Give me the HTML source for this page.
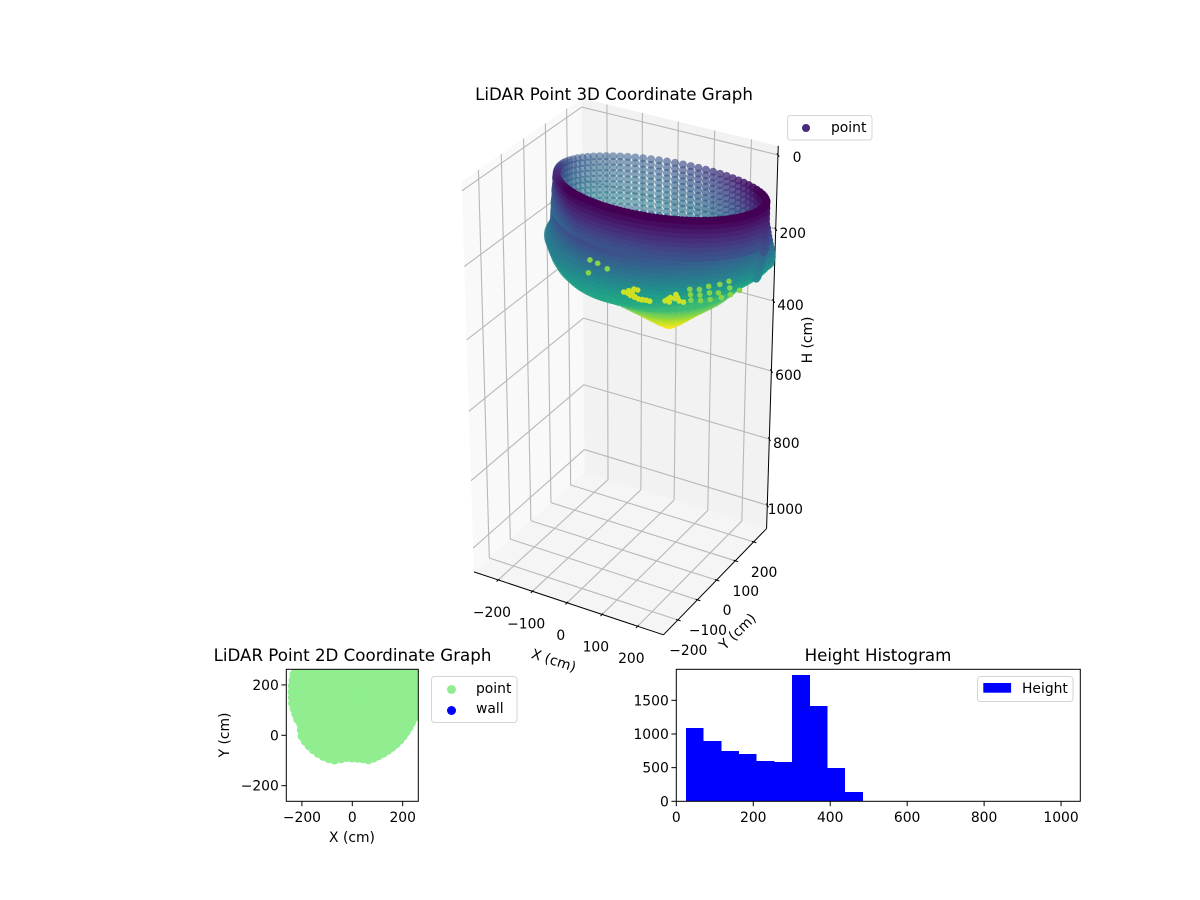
<!DOCTYPE html>
<html>
<head>
<meta charset="utf-8">
<title>LiDAR Point Graphs</title>
<style>
html,body{margin:0;padding:0;background:#fff;}
svg{display:block;}
text{font-family:"DejaVu Sans","Liberation Sans",sans-serif;font-size:13.89px;fill:#000;}
.title{font-size:16.67px;text-anchor:middle;}
.mid{text-anchor:middle;}
.end{text-anchor:end;}
</style>
</head>
<body>
<svg id="fig" xmlns="http://www.w3.org/2000/svg" width="1200" height="900" viewBox="0 0 1200 900">
  <rect width="1200" height="900" fill="#fff"/>
  <defs>
    <clipPath id="planClip"><rect x="286.3" y="669.3" width="132" height="132"/></clipPath>
  </defs>
  <g id="chart3d"></g>
  <g id="plan"></g>
  <g id="hist"></g>

  <text class="title" x="614" y="100">LiDAR Point 3D Coordinate Graph</text>
  <text class="title" x="352.5" y="661">LiDAR Point 2D Coordinate Graph</text>
  <text class="title" x="878" y="661">Height Histogram</text>

  <text class="mid" transform="translate(553.5,661) rotate(18)" dominant-baseline="central">X (cm)</text>
  <text class="mid" transform="translate(738,632) rotate(-44)" dominant-baseline="central">Y (cm)</text>
  <text class="mid" transform="translate(808,340) rotate(-90)" dominant-baseline="central">H (cm)</text>
  <text class="mid" x="352" y="842">X (cm)</text>
  <text class="mid" transform="translate(225,735) rotate(-90)" dominant-baseline="central">Y (cm)</text>

  <g>
    <rect x="787.5" y="115.5" width="84.5" height="24.5" rx="3" fill="#fff" stroke="#d5d5d5"/>
    <circle cx="806" cy="128" r="4" fill="#472c7a"/>
    <text x="831" y="132">point</text>
  </g>
  <g>
    <rect x="431.5" y="676.5" width="85.5" height="46" rx="3" fill="#fff" stroke="#d5d5d5"/>
    <circle cx="451.5" cy="689.5" r="4.5" fill="#90ee90"/>
    <text x="476" y="693">point</text>
    <circle cx="451.5" cy="710.5" r="4.5" fill="#0000ff"/>
    <text x="476" y="713">wall</text>
  </g>
  <g>
    <rect x="977.5" y="676.5" width="95.5" height="25" rx="3" fill="#fff" stroke="#d5d5d5"/>
    <rect x="983.3" y="683" width="27.8" height="9.7" fill="#0000ff"/>
    <text x="1022" y="693">Height</text>
  </g>
</svg>
<script>
/* ---------- histogram data ---------- */
var binEdges = [25,71,117,163,209,255,301,347,393,439,485];
var binCounts = [1090,896,748,703,599,584,1877,1416,495,139];
var histXTicks = [0,200,400,600,800,1000];
var histYTicks = [0,500,1000,1500];

/* ---------- 2D scatter data (polar reading of the footprint) ---------- */
var planBearing = [0,5,10,15,20,25,30,35,40,45,50,55,60,65,70,75,80,85,90,95,100,105,110,115,120,125,130,135,140,145,150,155,160,165,170,175,180,185,190,195,200,205,210,215,220,225,230,235,240,245,250,255,260,265,270,275,280,285,290,295,300,305,310,315,320,325,330,335,340,345,350,355];
var planRadius = [262,262,262,262,262,262,262,262,262,262,262,262,262,262,262,262,262,262,262,262,262,262,262,262,262,262,262,264,264,265,266,270,268,264,262,260,258,258,255,253,252,248,257,268,270,271,271,271,270,268,264,252,242,241,241,244,251,249,246,244,242,241,240,239,238,237,237,237,238,240,242,244];
var planFraction = [1,0.92,0.84,0.76,0.68,0.6,0.52,0.44,0.36,0.28,0.2,0.12,0.04];
var planCenterX = 20;
var planCenterY = 150;
var planTicks = [-200,0,200];

/* ---------- 3D scatter data ---------- */
var azimuthDeg = [0,4.5,9,13.5,18,22.5,27,31.5,36,40.5,45,49.5,54,58.5,63,67.5,72,76.5,81,85.5,90,94.5,99,103.5,108,112.5,117,121.5,126,130.5,135,139.5,144,148.5,153,157.5,162,166.5,171,175.5,180,184.5,189,193.5,198,202.5,207,211.5,216,220.5,225,229.5,234,238.5,243,247.5,252,256.5,261,265.5,270,274.5,279,283.5,288,292.5,297,301.5,306,310.5,315,319.5,324,328.5,333,337.5,342,346.5,351,355.5];
var frontInfillDeg = [182.25,186.75,191.25,195.75,200.25,204.75,209.25,213.75,218.25,222.75,227.25,231.75,236.25,240.75,245.25,249.75,254.25,258.75,263.25,267.75,272.25,276.75,281.25,285.75,290.25,294.75,299.25,303.75,308.25,312.75,317.25,321.75,326.25,330.75,335.25,339.75,344.25,348.75,353.25,357.75];
var ringHeight = [25,40,55,70,85,100,115,130,145,160,175,190,205,220,235,250,265,280,295,310,320,335,350,365,380,395,410,425,440,455,470,485];
/* near side of each ring */
var ringCenterX = [88,84,81,77,73,70,66,62,59,55,52,48,44,37,29,16,11,5,-2,-10,-12,16,17,18,19,20,21,22,24,26,28,30];
var ringCenterY = [32,40,49,57,65,74,82,90,99,107,116,124,132,141,149,157,166,174,182,191,199,197,196,194,193,191,190,189,187,185,183,181];
var ringRadiusX = [262,264,265,267,269,270,272,274,275,277,279,280,282,283,285,283,278,270,260,245,229,200,185,170,155,135,115,95,75,55,35,12];
var ringRadiusY = [165,169,174,178,182,186,191,195,199,203,208,212,216,220,225,229,233,237,242,246,250,225,200,175,155,135,115,95,75,55,35,12];
/* far side of each ring */
var ringBackCenterX = [88,88,88,88,88,88,88,88,88,88,88,88,88,88,70,50,30,10,-5,-15,-20,16,17,18,19,20,21,22,24,26,28,30];
var ringBackCenterY = [32,32,32,32,32,32,32,32,32,32,32,32,32,32,60,90,120,150,180,200,220,197,196,194,193,191,190,189,187,185,183,181];
var ringBackRadiusX = [262,262,262,262,262,262,262,262,262,258,255,252,249,246,240,230,215,200,190,180,170,170,160,150,140,130,115,95,75,55,35,12];
var ringBackRadiusY = [125,125,125,125,125,125,125,125,125,125,125,125,125,125,110,100,90,80,70,65,60,60,60,60,60,60,60,60,60,55,35,12];
var ringTiltDeg = 5;
/* bright returns showing through the wall */
var patchX = [-115,-91,-65,-45,-3,0,4,28,-101,95,65,116,86,134,98,153,117,165,129,174,-228,-166,-196,-202,80,101,116,135,147,-78,-55,-1,16,-108,-96,-103,-79,-55,-35,9,12,-90,40];
var patchY = [207,200,194,198,219,241,262,236,234,173,222,184,233,200,259,223,282,248,308,279,233,213,171,227,198,208,230,241,278,197,196,230,249,220,217,207,200,194,198,219,241,234,236];
var patchZ = [450,450,450,450,450,450,450,450,450,400,400,400,400,400,400,400,400,400,400,400,400,400,400,400,400,400,400,400,400,450,450,450,450,450,450,450,450,450,450,450,450,450,450];

var axisTicks3d = [-200,-100,0,100,200];
var heightTicks3d = [0,200,400,600,800,1000];

/* ---------- helpers ---------- */
var NS = 'http://www.w3.org/2000/svg';
function mk(parent, tag, attrs, txt){
  var el = document.createElementNS(NS, tag);
  for (var k in attrs) el.setAttribute(k, attrs[k]);
  if (txt !== undefined) el.textContent = txt;
  parent.appendChild(el);
  return el;
}
var viridisStops = [[68,1,84],[72,36,117],[65,68,135],[53,95,141],[42,120,142],[33,145,140],[34,168,132],[68,191,112],[122,209,81],[189,223,38],[253,231,37]];
function viridis(v){
  v = Math.max(0, Math.min(1, v)) * 10;
  var i = Math.min(9, Math.floor(v)), f = v - i, a = viridisStops[i], b = viridisStops[i+1];
  return 'rgb(' + Math.round(a[0]+(b[0]-a[0])*f) + ',' + Math.round(a[1]+(b[1]-a[1])*f) + ',' + Math.round(a[2]+(b[2]-a[2])*f) + ')';
}

/* ---------- 3D projection: camera fitted to the box corners ---------- */
var XLIM = [-272,272], YLIM = [-272,272], ZLIM = [-24,1072];
var zeroLevel = (0-ZLIM[0])/(ZLIM[1]-ZLIM[0]);
var boxCorners = [
  [0,0,1,474,571.7],[1,0,1,663.3,635],[1,1,1,766.7,528.3],[0,1,1,584.5,472.7],
  [0,0,zeroLevel,462,190.7],[0,1,zeroLevel,581.7,107],[1,1,zeroLevel,778,155]
];
function solveCamera(){
  var rows = [], rhs = [];
  boxCorners.forEach(function(c){
    var u=c[0],v=c[1],w=c[2],sx=c[3],sy=c[4];
    rows.push([u,v,w,1,0,0,0,0,-sx*u,-sx*v,-sx*w]); rhs.push(sx);
    rows.push([0,0,0,0,u,v,w,1,-sy*u,-sy*v,-sy*w]); rhs.push(sy);
  });
  var n = 11, A = [], i, j, k;
  for (i=0;i<n;i++){ A.push(new Array(n+1).fill(0)); }
  rows.forEach(function(r,ri){
    for (i=0;i<n;i++){
      for (j=0;j<n;j++) A[i][j] += r[i]*r[j];
      A[i][n] += r[i]*rhs[ri];
    }
  });
  for (i=0;i<n;i++){
    var p=i;
    for (k=i+1;k<n;k++) if (Math.abs(A[k][i])>Math.abs(A[p][i])) p=k;
    var t=A[i];A[i]=A[p];A[p]=t;
    for (k=i+1;k<n;k++){
      var m=A[k][i]/A[i][i];
      for (j=i;j<=n;j++) A[k][j]-=m*A[i][j];
    }
  }
  var s=new Array(n).fill(0);
  for (i=n-1;i>=0;i--){
    var q=A[i][n];
    for (j=i+1;j<n;j++) q-=A[i][j]*s[j];
    s[i]=q/A[i][i];
  }
  return s;
}
var cam = solveCamera();
function project(x,y,z){
  var u=(x-XLIM[0])/(XLIM[1]-XLIM[0]), v=(y-YLIM[0])/(YLIM[1]-YLIM[0]), w=(z-ZLIM[0])/(ZLIM[1]-ZLIM[0]);
  var h=cam[8]*u+cam[9]*v+cam[10]*w+1;
  return {x:(cam[0]*u+cam[1]*v+cam[2]*w+cam[3])/h, y:(cam[4]*u+cam[5]*v+cam[6]*w+cam[7])/h, d:h};
}

/* ---------- draw 3D ---------- */
(function(){
  var g = document.getElementById('chart3d');
  var xa=XLIM[0],xb=XLIM[1],ya=YLIM[0],yb=YLIM[1],za=ZLIM[0],zb=ZLIM[1];
  function poly(pts){ return pts.map(function(p){var q=project(p[0],p[1],p[2]);return q.x.toFixed(2)+','+q.y.toFixed(2);}).join(' '); }
  function line(a,b,color,width,name){
    var p=project(a[0],a[1],a[2]), q=project(b[0],b[1],b[2]);
    var el=mk(g,'line',{x1:p.x,y1:p.y,x2:q.x,y2:q.y,stroke:color,'stroke-width':width});
    
    
    return el;
  }
  var pane;
  pane = mk(g,'polygon',{points:poly([[xa,ya,za],[xa,yb,za],[xa,yb,zb],[xa,ya,zb]]),fill:'#f9f9f9'});
  
  
  pane = mk(g,'polygon',{points:poly([[xa,yb,za],[xb,yb,za],[xb,yb,zb],[xa,yb,zb]]),fill:'#f2f2f2'});
  
  
  pane = mk(g,'polygon',{points:poly([[xa,ya,zb],[xb,ya,zb],[xb,yb,zb],[xa,yb,zb]]),fill:'#f5f5f5'});
  
  

  var gc='#b8b8b8', gw=1.1;
  axisTicks3d.forEach(function(t){
    line([t,ya,zb],[t,yb,zb],gc,gw,'floor-gridline-x');
    line([t,yb,zb],[t,yb,za],gc,gw,'back-gridline-x');
    line([xa,t,zb],[xb,t,zb],gc,gw,'floor-gridline-y');
    line([xa,t,zb],[xa,t,za],gc,gw,'left-gridline-y');
  });
  heightTicks3d.forEach(function(t){
    line([xa,ya,t],[xa,yb,t],gc,gw,'left-gridline-z');
    line([xa,yb,t],[xb,yb,t],gc,gw,'back-gridline-z');
  });

  line([xa,ya,zb],[xb,ya,zb],'#000',1,'x-axis-line');
  line([xb,ya,zb],[xb,yb,zb],'#000',1,'y-axis-line');
  line([xb,yb,zb],[xb,yb,za],'#000',1,'z-axis-line');

  axisTicks3d.forEach(function(t){
    line([t,ya-8,zb],[t,ya+5,zb],'#000',1,'x-tick');
    var p=project(t,ya,zb);
    var l=mk(g,'text',{x:p.x-6.3,y:p.y+33,'class':'mid','dominant-baseline':'central'},String(t).replace('-','\u2212'));
    
    

    line([xb+8,t,zb],[xb-5,t,zb],'#000',1,'y-tick');
    var q=project(xb,t,zb);
    var m=mk(g,'text',{x:q.x+10.5,y:q.y+31,'class':'mid','dominant-baseline':'central'},String(t).replace('-','\u2212'));
    
    
  });
  heightTicks3d.forEach(function(t){
    line([xb+7,yb-7,t],[xb-6,yb+6,t],'#000',1,'z-tick');
    var p=project(xb,yb,t);
    var l=mk(g,'text',{x:p.x+(t===0?19:(t===1000?18:17)),y:p.y+(t===0?3:5),'class':'mid','dominant-baseline':'central'},String(t));
    
    
  });

  /* point cloud */
  var front=project(xb,ya,za).d, back=project(xa,yb,zb).d, dir=front<back?1:-1;
  var tilt=ringTiltDeg*Math.PI/180;
  var pts=[];
  function addPoint(r,a){
    var rad=a*Math.PI/180;
    var sn=Math.sin(rad), far=sn>=0;
    var ex=(far?ringBackRadiusX[r]:ringRadiusX[r])*Math.cos(rad), ey=(far?ringBackRadiusY[r]:ringRadiusY[r])*sn;
    var x=(far?ringBackCenterX[r]:ringCenterX[r])+ex*Math.cos(tilt)-ey*Math.sin(tilt);
    var y=(far?ringBackCenterY[r]:ringCenterY[r])+ex*Math.sin(tilt)+ey*Math.cos(tilt);
    var p=project(x,y,ringHeight[r]);
    var flat=project(x,y,ringHeight[0]);
    pts.push({x:p.x,y:p.y,k:-dir*p.d,s:-dir*flat.d,z:ringHeight[r],r:r,c:Math.cos(rad)});
  }
  ringHeight.forEach(function(z,r){
    azimuthDeg.forEach(function(a){ addPoint(r,a); });
    if (r<=20) frontInfillDeg.forEach(function(a){ addPoint(r,a); });
  });
  var smin=Infinity,smax=-Infinity;
  pts.forEach(function(p){ if(p.r===0){ if(p.s<smin)smin=p.s; if(p.s>smax)smax=p.s; } });
  pts.sort(function(a,b){return a.k-b.k;});
  var cloud=mk(g,'g',{});
  
  
  pts.forEach(function(p){
    var t=Math.max(0,Math.min(1,(p.s-smin)/(smax-smin)));
    var tint=0.3*Math.max(0,1-(p.z-25)/250)*Math.max(0,1-t*1.8);
    var side=p.z>150&&p.z<=320?0.08*p.c-0.03:0;
    var v=(p.z-25)/460+tint+side;
    var c=mk(cloud,'circle',{cx:p.x.toFixed(2),cy:p.y.toFixed(2),r:4,fill:viridis(v),'fill-opacity':(0.55+0.45*Math.min(1,t*1.8)).toFixed(3)});
    
    
  });
  patchX.forEach(function(x,i){
    var p=project(x,patchY[i],patchZ[i]);
    var c=mk(cloud,'circle',{cx:p.x.toFixed(2),cy:p.y.toFixed(2),r:2.8,fill:viridis((patchZ[i]-25)/460)});
    
    
  });
})();

/* ---------- draw 2D ---------- */
(function(){
  var g=document.getElementById('plan');
  var L=286.3,T=669.3,S=132,lim=262;
  function px(x){return L+(x+lim)/(2*lim)*S;}
  function py(y){return T+S-(y+lim)/(2*lim)*S;}
  var pg=mk(g,'g',{'clip-path':'url(#planClip)'});
  
  
  planFraction.forEach(function(f){
    planBearing.forEach(function(b,i){
      var rad=b*Math.PI/180;
      var c=mk(pg,'circle',{cx:px(planCenterX+f*planRadius[i]*Math.cos(rad)).toFixed(2),cy:py(planCenterY+f*planRadius[i]*Math.sin(rad)).toFixed(2),r:4.5,fill:'#90ee90'});
      
      
    });
  });
  var fr=mk(g,'rect',{x:L,y:T,width:S,height:S,fill:'none',stroke:'#000','stroke-width':1});
  
  
  planTicks.forEach(function(t){
    var a=mk(g,'line',{x1:px(t),x2:px(t),y1:T+S,y2:T+S+4.9,stroke:'#000','stroke-width':1});
    
    
    var b=mk(g,'text',{x:px(t),y:T+S+20.5,'class':'mid'},String(t).replace('-','\u2212'));
    
    
    var c=mk(g,'line',{x1:L-4.9,x2:L,y1:py(t),y2:py(t),stroke:'#000','stroke-width':1});
    
    
    var d=mk(g,'text',{x:L-7.5,y:py(t)+5,'class':'end'},String(t).replace('-','\u2212'));
    
    
  });
})();

/* ---------- draw histogram ---------- */
(function(){
  var g=document.getElementById('hist');
  var L=676.3,R=1080.3,T=669.3,B=801.3,xMax=1050,yMax=1961;
  function px(x){return L+x/xMax*(R-L);}
  function py(y){return B-y/yMax*(B-T);}
  binCounts.forEach(function(c,i){
    var r=mk(g,'rect',{x:px(binEdges[i]),y:py(c),width:px(binEdges[i+1])-px(binEdges[i]),height:B-py(c),fill:'#0000ff','shape-rendering':'crispEdges'});
    
    
  });
  var fr=mk(g,'rect',{x:L,y:T,width:R-L,height:B-T,fill:'none',stroke:'#000','stroke-width':1});
  
  
  histXTicks.forEach(function(t){
    var a=mk(g,'line',{x1:px(t),x2:px(t),y1:B,y2:B+4.9,stroke:'#000','stroke-width':1});
    
    
    var b=mk(g,'text',{x:px(t),y:B+20.5,'class':'mid'},String(t));
    
    
  });
  histYTicks.forEach(function(t){
    var c=mk(g,'line',{x1:L-4.9,x2:L,y1:py(t),y2:py(t),stroke:'#000','stroke-width':1});
    
    
    var d=mk(g,'text',{x:L-7.5,y:py(t)+5,'class':'end'},String(t));
    
    
  });
})();
</script>
</body>
</html>
